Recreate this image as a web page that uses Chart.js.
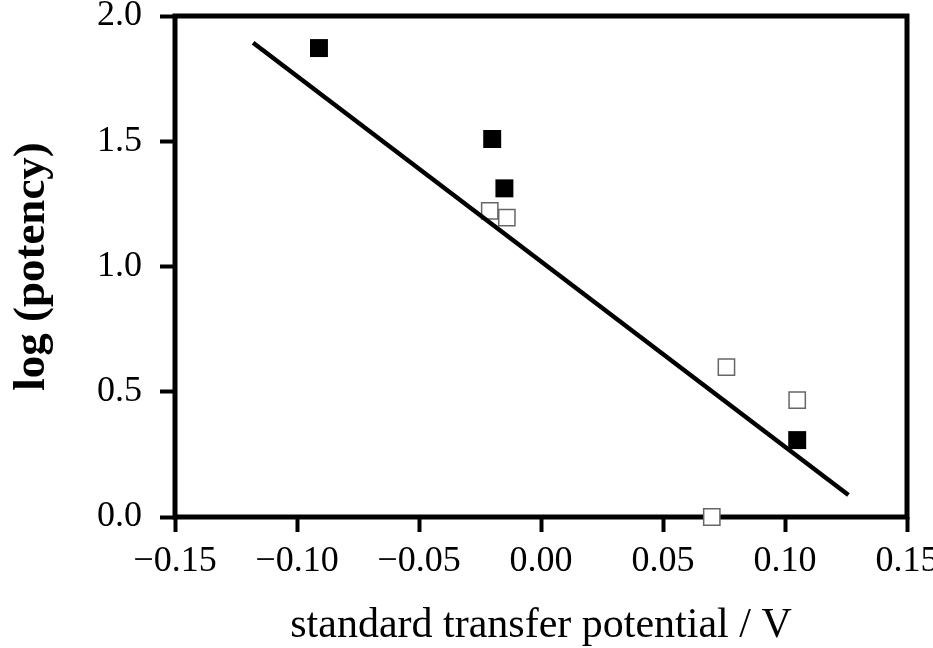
<!DOCTYPE html>
<html><head><meta charset="utf-8">
<script src="https://cdn.jsdelivr.net/npm/chart.js@4"></script>
<style>html,body{margin:0;padding:0;background:#fff;} #wrap{width:933px;height:648px;}</style>
</head><body><div id="wrap"><canvas id="c" width="933" height="648"></canvas></div>
<script>
const xTickValues = [-0.15, -0.10, -0.05, 0.00, 0.05, 0.10, 0.15];
const xTickLabels = ['\u22120.15', '\u22120.10', '\u22120.05', '0.00', '0.05', '0.10', '0.15'];
const yTickValues = [0.0, 0.5, 1.0, 1.5, 2.0];
const yTickLabels = ['0.0', '0.5', '1.0', '1.5', '2.0'];

const filledX = [-0.091, -0.020, -0.015, 0.105];
const filledY = [1.872, 1.509, 1.312, 0.307];
const openX = [-0.021, -0.014, 0.076, 0.105, 0.070];
const openY = [1.222, 1.195, 0.598, 0.467, 0.0];
const fitX = [-0.118, 0.126];
const fitY = [1.893, 0.088];

const toPts = (xs, ys) => xs.map((x, i) => ({x: x, y: ys[i]}));

const boxPlugin = {
  id: 'box',
  beforeDatasetsDraw(chart) {
    const {ctx, chartArea: a} = chart;
    ctx.save();
    ctx.strokeStyle = '#000';
    ctx.lineWidth = 5;
    ctx.lineJoin = 'miter';
    ctx.strokeRect(a.left, a.top, a.right - a.left, a.bottom - a.top);
    ctx.restore();
  }
};

const serif = 'Liberation Serif';

new Chart(document.getElementById('c'), {
  type: 'scatter',
  data: {
    datasets: [
      {
        label: 'filled',
        data: toPts(filledX, filledY),
        pointStyle: 'rect',
        pointRadius: 12.7,
        backgroundColor: '#000',
        borderColor: '#000',
        borderWidth: 0,
        order: 0,
        clip: false
      },
      {
        label: 'fit',
        data: toPts(fitX, fitY),
        showLine: true,
        pointRadius: 0,
        borderColor: '#000',
        borderWidth: 4.5,
        order: 1,
        clip: false
      },
      {
        label: 'open',
        data: toPts(openX, openY),
        pointStyle: 'rect',
        pointRadius: 11.5,
        backgroundColor: '#fff',
        borderColor: '#666',
        borderWidth: 1.5,
        order: 2,
        clip: false
      }
    ]
  },
  options: {
    responsive: false,
    animation: false,
    events: [],
    layout: {padding: {top: 16, right: 26, left: 0, bottom: 0}},
    plugins: {legend: {display: false}, tooltip: {enabled: false}},
    scales: {
      x: {
        type: 'linear',
        position: 'bottom',
        min: -0.15,
        max: 0.15,
        afterBuildTicks: s => { s.ticks = xTickValues.map(v => ({value: v})); },
        ticks: {
          callback: (v, i) => xTickLabels[i],
          font: {family: serif, size: 36},
          color: '#000',
          padding: 8,
          maxRotation: 0,
          autoSkip: false
        },
        grid: {drawOnChartArea: false, drawTicks: true, tickLength: 15, tickWidth: 4, tickColor: '#000'},
        border: {display: false},
        title: {
          display: true,
          text: 'standard transfer potential / V',
          font: {family: serif, size: 42, lineHeight: 1},
          color: '#000',
          padding: {top: 0, bottom: 1}
        },
        afterFit: s => { s.height = 131; s.paddingLeft = 0; s.paddingRight = 0; }
      },
      y: {
        type: 'linear',
        position: 'left',
        min: 0,
        max: 2,
        afterBuildTicks: s => { s.ticks = yTickValues.map(v => ({value: v})); },
        ticks: {
          callback: (v, i) => yTickLabels[i],
          font: {family: serif, size: 36},
          color: '#000',
          padding: 18,
          autoSkip: false
        },
        grid: {drawOnChartArea: false, drawTicks: true, tickLength: 15, tickWidth: 4, tickColor: '#000'},
        border: {display: false},
        title: {
          display: true,
          text: 'log (potency)',
          font: {family: serif, size: 45, weight: 'bold', lineHeight: 1},
          color: '#000',
          padding: {top: 10, bottom: 0}
        },
        afterFit: s => { s.width = 175; s.paddingTop = 0; s.paddingBottom = 0; }
      }
    }
  },
  plugins: [boxPlugin]
});
</script>
</body></html>
